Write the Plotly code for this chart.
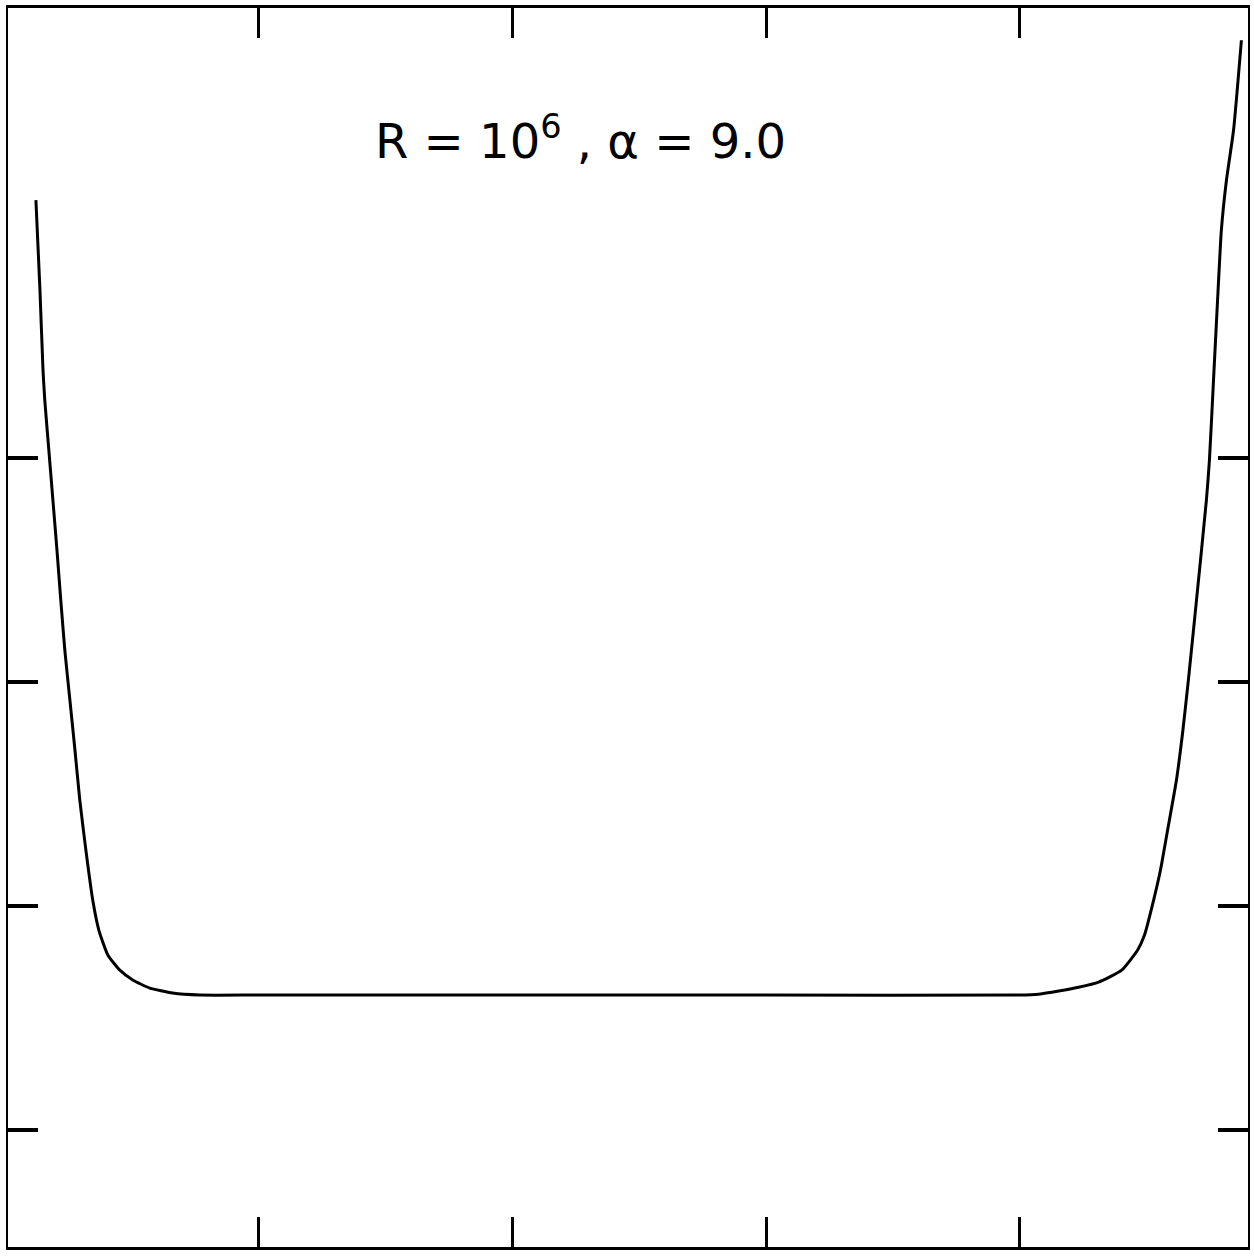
import plotly.graph_objects as go

# Curve (x in tick units, y in tick units)
x_vals = [0.122, 0.138, 0.150, 0.157, 0.173, 0.189, 0.205, 0.220, 0.236, 0.256,
          0.276, 0.295, 0.319, 0.346, 0.370, 0.406, 0.453, 0.504, 0.571, 0.661,
          0.768, 1.0, 2.0, 3.0, 4.0,
          4.075, 4.154, 4.232, 4.311, 4.402, 4.465, 4.492, 4.528, 4.555, 4.583,
          4.618, 4.642, 4.665, 4.697, 4.736, 4.748, 4.764, 4.780, 4.795, 4.815,
          4.843, 4.874]
y_vals = [5.152, 4.750, 4.393, 4.259, 4.036, 3.813, 3.589, 3.366, 3.143, 2.920,
          2.696, 2.473, 2.250, 2.027, 1.893, 1.781, 1.714, 1.670, 1.634, 1.612,
          1.603, 1.603, 1.603, 1.603, 1.603,
          1.607, 1.621, 1.638, 1.661, 1.714, 1.804, 1.871, 2.027, 2.161, 2.339,
          2.563, 2.772, 3.009, 3.366, 3.813, 3.991, 4.348, 4.705, 5.018, 5.241,
          5.464, 5.866]

x_ticks = [1, 2, 3, 4]
y_ticks = [1, 2, 3, 4]
label = "R = 10<sup>6</sup> , α = 9.0"

fig = go.Figure()
fig.add_trace(go.Scatter(x=x_vals, y=y_vals, mode="lines",
                         line=dict(color="black", width=3, shape="spline", smoothing=0.5),
                         showlegend=False, hoverinfo="skip"))

fig.add_annotation(x=2.27, y=5.43, xref="x", yref="y", text=label, showarrow=False,
                   font=dict(family="DejaVu Sans", size=48, color="black"))

common = dict(showline=True, linecolor="black", mirror="ticks",
              ticks="inside", ticklen=30, tickcolor="black",
              showgrid=False, zeroline=False, showticklabels=False)

fig.update_xaxes(range=[0.012, 4.90], tickvals=x_ticks, linewidth=3, tickwidth=2.5, **common)
fig.update_yaxes(range=[0.478, 6.01], tickvals=y_ticks, linewidth=1.5, tickwidth=3.5, **common)

fig.update_layout(width=1254, height=1257, margin=dict(l=8, r=4, t=8, b=10),
                  paper_bgcolor="white", plot_bgcolor="white")

fig.write_html("out.html")
